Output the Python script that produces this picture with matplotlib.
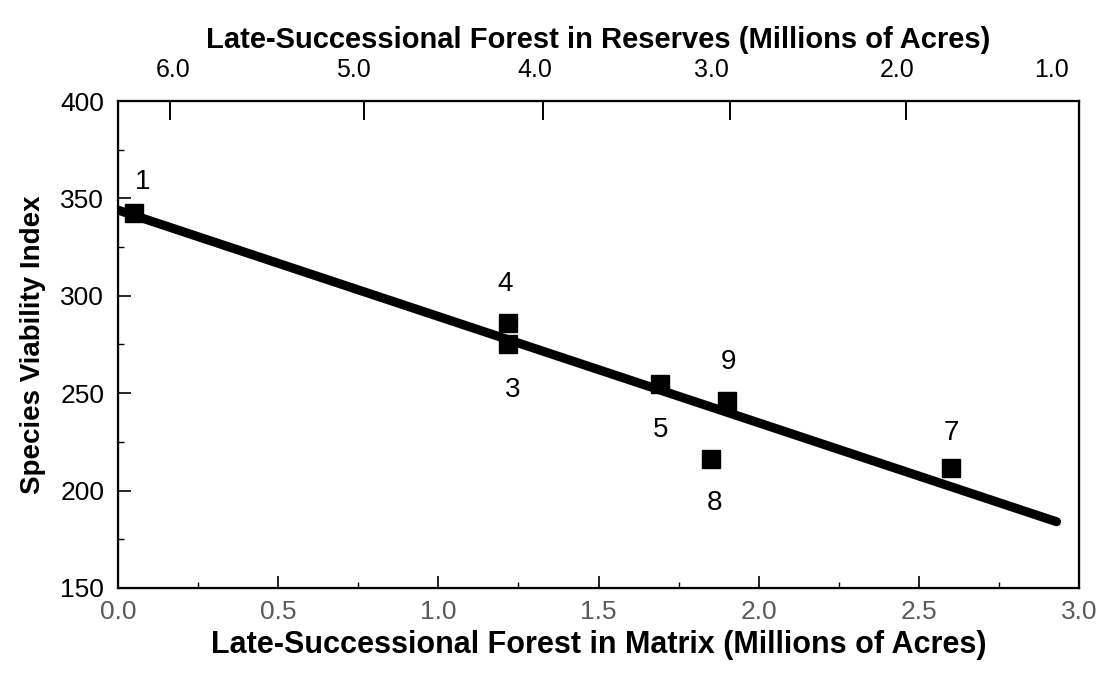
import matplotlib
matplotlib.use('Agg')
import matplotlib.pyplot as plt

plt.rcParams['font.family'] = ['Liberation Sans', 'DejaVu Sans']

# Alternatives: late-successional forest in matrix vs species viability index
alt_labels = ['1', '3', '4', '5', '7', '8', '9']
matrix_acres = [0.05, 1.216, 1.216, 1.693, 2.60, 1.852, 1.902]
viability = [342.5, 275.2, 286.2, 254.7, 211.8, 216.4, 245.8]

# Fitted line end points
fit_x = [0.0, 2.93]
fit_y = [344.0, 184.0]

# Top axis: reserves (ticks and labels placed on the matrix scale)
reserve_tick_pos = [0.161, 0.769, 1.328, 1.911, 2.460]
reserve_label_pos = [0.171, 0.735, 1.300, 1.852, 2.432, 2.913]
reserve_labels = ['6.0', '5.0', '4.0', '3.0', '2.0', '1.0']

# label offsets (points) for the point numbers
label_offsets = {'1': (6.5, 22), '3': (3.5, -33), '4': (-2, 28), '5': (0, -33),
                 '7': (0, 25), '8': (2, -32), '9': (0.7, 28)}

fig = plt.figure(figsize=(11.05, 6.77), dpi=100)
ax = fig.add_axes([0.1068, 0.1315, 0.8697, 0.7193])

ax.plot(fit_x, fit_y, color='black', lw=6.5, solid_capstyle='round', zorder=2)
ax.plot(matrix_acres, viability, 's', color='black', markersize=13, zorder=3)

for lab, x, y in zip(alt_labels, matrix_acres, viability):
    ax.annotate(lab, (x, y), xytext=label_offsets[lab], textcoords='offset points',
                ha='center', va='center', fontsize=20)

ax.set_xlim(0, 3.0)
ax.set_ylim(150, 400)
ax.set_xticks([0.0, 0.5, 1.0, 1.5, 2.0, 2.5, 3.0])
ax.set_xticklabels(['0.0', '0.5', '1.0', '1.5', '2.0', '2.5', '3.0'])
ax.set_xticks([0.25, 0.75, 1.25, 1.75, 2.25, 2.75], minor=True)
ax.set_yticks([150, 200, 250, 300, 350, 400])
ax.set_yticks([175, 225, 275, 325, 375], minor=True)

ax.tick_params(axis='both', which='major', direction='in', length=9, width=1.2,
               labelsize=19, pad=10)
ax.tick_params(axis='both', which='minor', direction='in', length=4, width=1)
ax.tick_params(axis='x', labelcolor='#5a5a5a', pad=9)
for s in ax.spines.values():
    s.set_linewidth(1.6)

ax.set_xlabel('Late-Successional Forest in Matrix (Millions of Acres)',
              fontsize=22, fontweight='bold', labelpad=4)
ax.set_ylabel('Species Viability Index', fontsize=20, fontweight='bold', labelpad=10)

# Top axis
ax2 = ax.twiny()
ax2.set_xlim(ax.get_xlim())
ax2.set_xticks(reserve_tick_pos)
ax2.set_xticklabels([])
ax2.set_xticks(reserve_label_pos, minor=True)
ax2.set_xticklabels(reserve_labels, minor=True)
ax2.tick_params(axis='x', which='major', direction='in', length=14, width=1.4)
ax2.tick_params(axis='x', which='minor', length=0, labelsize=18, pad=14)
ax2.set_xlabel('Late-Successional Forest in Reserves (Millions of Acres)',
               fontsize=21, fontweight='bold', labelpad=7)

fig.savefig('out.png', dpi=100)
